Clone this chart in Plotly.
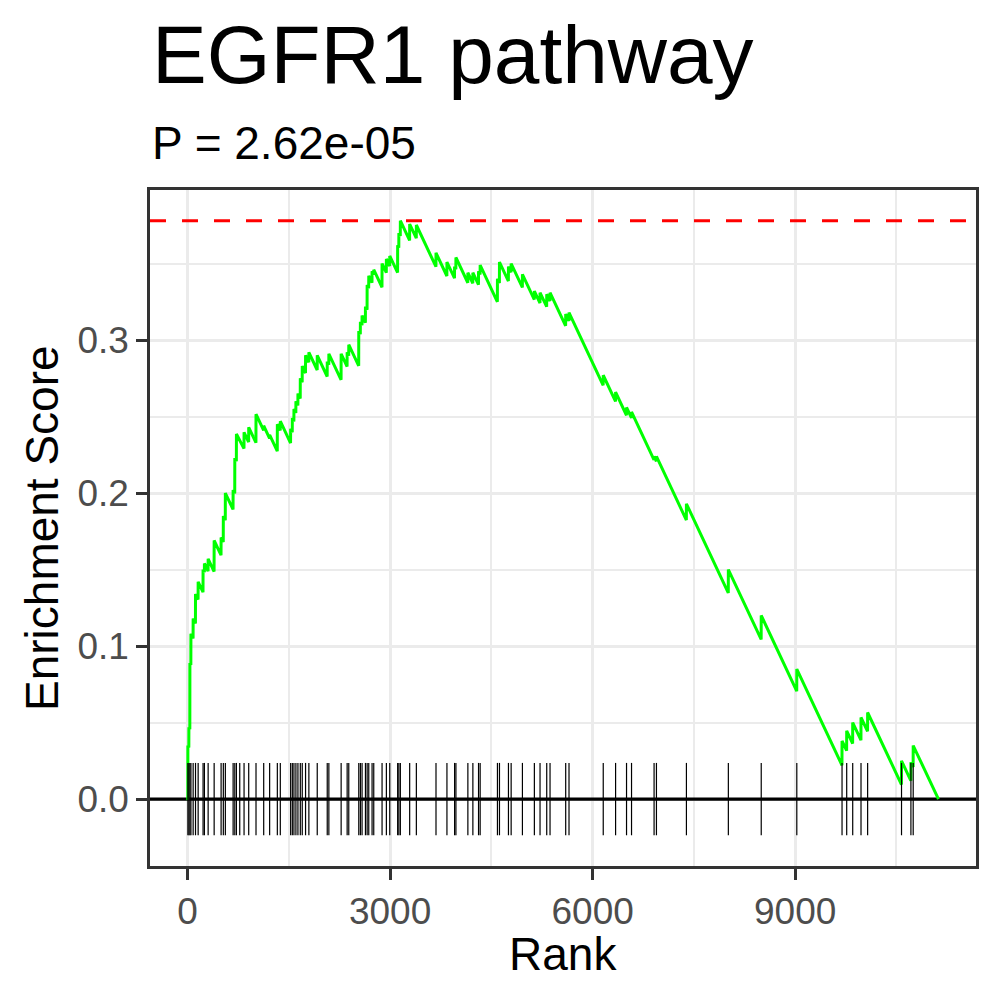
import plotly.graph_objects as go

# ---------------- data ----------------
curve_end_rank = 11122          # last point of the running-sum curve (n + 1)
decline_per_gene = 9.4e-5        # running-sum drop for each non-pathway gene

hit_ranks = [5, 20, 35, 50, 83, 118, 157, 230, 250, 305,
             394, 497, 530, 560, 675, 700, 724, 773, 837, 906,
             1014, 1128, 1216, 1330, 1374, 1527, 1552, 1576, 1605, 1635,
             1670, 1699, 1748, 1797, 1921, 2069, 2093, 2275, 2364, 2388,
             2536, 2560, 2585, 2635, 2660, 2684, 2733, 2758, 2881, 2945,
             2995, 3112, 3130, 3152, 3290, 3389, 3680, 3842, 3955, 3975,
             4152, 4226, 4310, 4334, 4590, 4620, 4753, 4793, 4960, 5137,
             5221, 5320, 5369, 5601, 5650, 6157, 6340, 6502, 6576, 6910,
             6945, 7389, 8010, 8497, 9024, 9694, 9763, 9852, 9975, 10073,
             10575, 10714, 10748]

es_tops = [0.035, 0.047, 0.089, 0.108, 0.118, 0.134, 0.142, 0.150, 0.154, 0.157,
           0.169, 0.171, 0.185, 0.200, 0.202, 0.223, 0.2386, 0.235, 0.2397, 0.243,
           0.2516, 0.244, 0.238, 0.245, 0.247, 0.242, 0.249, 0.255, 0.260, 0.265,
           0.275, 0.283, 0.290, 0.292, 0.290, 0.286, 0.291, 0.291, 0.292, 0.297,
           0.306, 0.312, 0.316, 0.322, 0.336, 0.342, 0.345, 0.346, 0.350, 0.353,
           0.355, 0.362, 0.370, 0.378, 0.3758, 0.3752, 0.357, 0.351, 0.348, 0.354,
           0.344, 0.344, 0.345, 0.349, 0.340, 0.351, 0.348, 0.350, 0.343, 0.332,
           0.331, 0.330, 0.331, 0.317, 0.318, 0.277, 0.266, 0.256, 0.253, 0.224,
           0.224, 0.193, 0.150, 0.120, 0.085, 0.038, 0.0446, 0.050, 0.0534, 0.0566,
           0.025, 0.024, 0.035]

x_ticks = [0, 3000, 6000, 9000]
y_ticks = [0.0, 0.1, 0.2, 0.3]
title_text = "EGFR1 pathway"
subtitle_text = "P = 2.62e-05"
x_title = "Rank"
y_title = "Enrichment Score"

# ---------------- running-sum curve (steps at each hit) ----------------
curve_x = [0]
curve_y = [0.0]
prev_rank, prev_top = 0, 0.0
bottoms = []
for r, t in zip(hit_ranks, es_tops):
    b = prev_top - decline_per_gene * (r - prev_rank - 1)
    b = min(b, t)
    bottoms.append(b)
    curve_x += [r - 1, r]
    curve_y += [b, t]
    prev_rank, prev_top = r, t
curve_x.append(curve_end_rank)
curve_y.append(0.0)

es_max = max(es_tops)
es_min = min(bottoms + [0.0])
tick_half = (es_max - es_min) / 16.0

rug_x, rug_y = [], []
for r in hit_ranks:
    rug_x += [r, r, None]
    rug_y += [-tick_half, tick_half, None]

# axis ranges with ggplot-like 5% expansion
x_lo, x_hi = 0, curve_end_rank
xr = [x_lo - 0.05 * (x_hi - x_lo), x_hi + 0.05 * (x_hi - x_lo)]
y_lo, y_hi = min(-tick_half, es_min), es_max
yr = [y_lo - 0.05 * (y_hi - y_lo), y_hi + 0.05 * (y_hi - y_lo)]

FONT = "Liberation Sans, Arial, sans-serif"

fig = go.Figure()
# reference lines across the whole panel
fig.add_trace(go.Scatter(x=xr, y=[es_max, es_max], mode="lines",
                         line=dict(color="#FF0000", width=3, dash="16px,16px"),
                         hoverinfo="skip", showlegend=False))
fig.add_trace(go.Scatter(x=xr, y=[0, 0], mode="lines",
                         line=dict(color="black", width=3.2),
                         hoverinfo="skip", showlegend=False))
fig.add_trace(go.Scatter(x=curve_x, y=curve_y, mode="lines",
                         line=dict(color="#00FF00", width=3),
                         hoverinfo="skip", showlegend=False))
fig.add_trace(go.Scatter(x=rug_x, y=rug_y, mode="lines",
                         line=dict(color="black", width=1.2),
                         hoverinfo="skip", showlegend=False))

axis_common = dict(
    showgrid=True, gridcolor="#EBEBEB", gridwidth=3,
    zeroline=False, showline=True, mirror=True,
    linecolor="#333333", linewidth=2.5,
    ticks="outside", ticklen=11, tickwidth=2.7, tickcolor="#333333",
    tickfont=dict(family=FONT, size=37, color="#4D4D4D"),
)

fig.update_xaxes(range=xr, tickvals=x_ticks, ticktext=[str(v) for v in x_ticks],
                 minor=dict(tickvals=[1500, 4500, 7500, 10500], showgrid=True,
                            gridcolor="#EBEBEB", gridwidth=1.8, ticks=""),
                 **axis_common)
fig.update_yaxes(range=yr, tickvals=y_ticks, ticktext=[f"{v:.1f}" for v in y_ticks],
                 minor=dict(tickvals=[0.05, 0.15, 0.25, 0.35], showgrid=True,
                            gridcolor="#EBEBEB", gridwidth=1.8, ticks=""),
                 **axis_common)

ph = 1000 - 190 - 134
pw = 1000 - 150 - 24
fig.update_layout(
    width=1000, height=1000,
    margin=dict(l=150, r=24, t=190, b=134, pad=0),
    plot_bgcolor="white", paper_bgcolor="white",
    font=dict(family=FONT, color="black"),
    showlegend=False,
    annotations=[
        dict(text=title_text, xref="paper", yref="paper", x=0, y=(866 - 54) / ph,
             xanchor="left", yanchor="middle", showarrow=False,
             font=dict(family=FONT, size=82, color="black")),
        dict(text=subtitle_text, xref="paper", yref="paper", x=0, y=(866 - 143) / ph,
             xanchor="left", yanchor="middle", showarrow=False,
             font=dict(family=FONT, size=46, color="black")),
        dict(text=x_title, xref="paper", yref="paper", x=0.5, y=(866 - 954) / ph,
             xanchor="center", yanchor="middle", showarrow=False,
             font=dict(family=FONT, size=46, color="black")),
        dict(text=y_title, xref="paper", yref="paper", x=(42 - 150) / pw, y=0.5,
             xanchor="center", yanchor="middle", textangle=-90, showarrow=False,
             font=dict(family=FONT, size=46, color="black")),
    ],
)

fig.write_html("out.html",
               config={"displayModeBar": False},
               post_script="document.body.style.margin='0';document.body.style.overflow='hidden';")
